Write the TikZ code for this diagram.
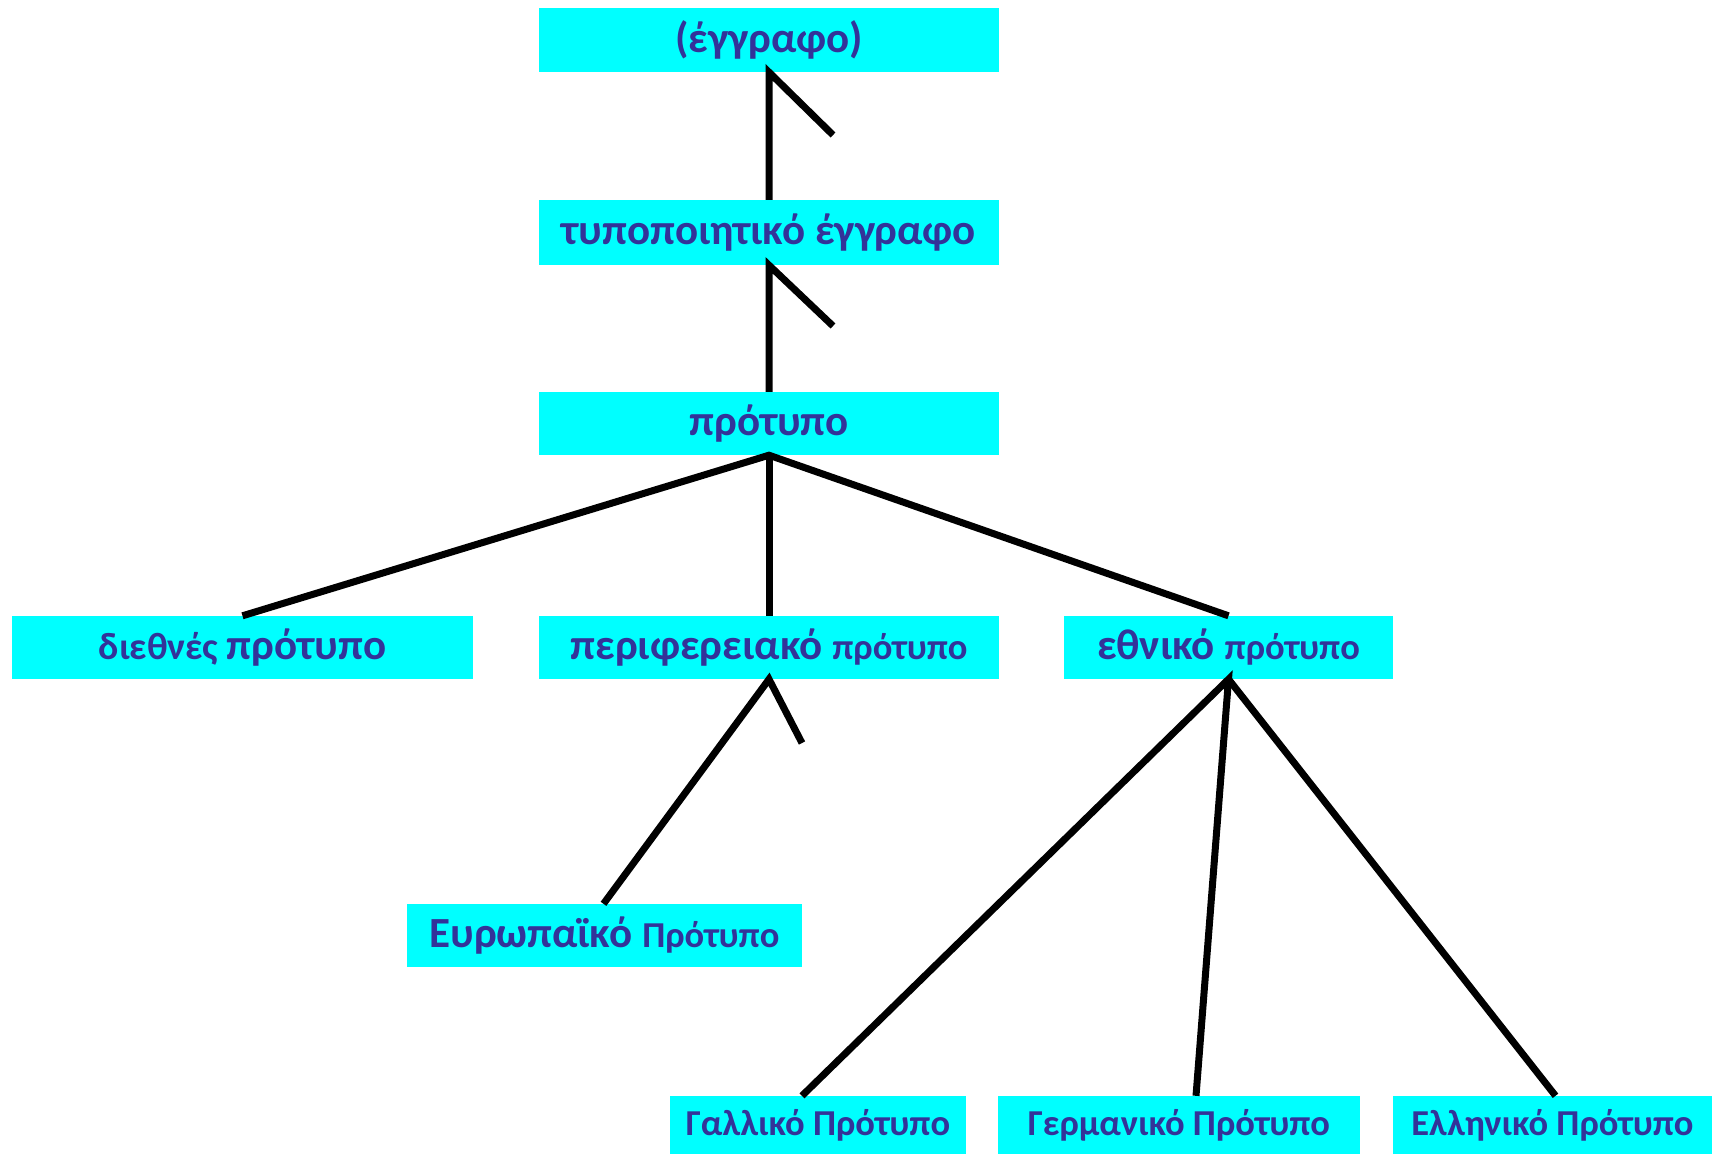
\documentclass[tikz,border=0pt]{standalone}
\usepackage{fontspec}
\setmainfont{Carlito}
\definecolor{boxcyan}{HTML}{00FFFF}
\definecolor{txtblue}{HTML}{333399}
\newcommand\fsL{\fontsize{43}{47}\selectfont}
\newcommand\fsM{\fontsize{38}{42}\selectfont}
\newcommand\fsS{\fontsize{36.5}{40}\selectfont}
\begin{document}
\begin{tikzpicture}[x=1pt,y=-1pt,
  box/.style={fill=boxcyan,draw=none,inner sep=0pt,text=txtblue,font=\bfseries,anchor=center},
  link/.style={line width=7pt,black}]
\useasboundingbox (0,0) rectangle (1712,1154);
\node[box,minimum width=460,minimum height=64] (doc) at (769,40) {\fsL(έγγραφο)};
\node[box,minimum width=460,minimum height=65] (tdoc) at (769,232.5) {\fsL τυποποιητικό έγγραφο};
\node[box,minimum width=460,minimum height=63] (std) at (769,423.5) {\fsL πρότυπο};
\node[box,minimum width=461,minimum height=63] (intl) at (242.5,647.5) {\fsM διεθνές \fsL πρότυπο};
\node[box,minimum width=460,minimum height=63] (reg) at (769,647.5) {\fsL περιφερειακό \fsS πρότυπο};
\node[box,minimum width=329,minimum height=63] (nat) at (1228.5,647.5) {\fsL εθνικό \fsS πρότυπο};
\node[box,minimum width=395,minimum height=63] (eu) at (604.5,935.5) {\fsL Ευρωπαϊκό \fsS Πρότυπο};
\node[box,minimum width=296,minimum height=58] (fr) at (818,1125) {\fsS Γαλλικό Πρότυπο};
\node[box,minimum width=362,minimum height=58] (de) at (1179,1125) {\fsS Γερμανικό Πρότυπο};
\node[box,minimum width=319,minimum height=58] (gr) at (1552.5,1125) {\fsS Ελληνικό Πρότυπο};
\coordinate (t1) at (833,135);
\coordinate (t2) at (833,326);
\coordinate (t3) at (802,743);
\draw[link] (tdoc.north) -- (doc.south) -- (t1);
\draw[link] (std.north) -- (tdoc.south) -- (t2);
\draw[link] (intl.north) -- (std.south) -- (nat.north);
\draw[link] (std.south) -- (reg.north);
\draw[link] ([xshift=-1pt]eu.north) -- (reg.south) -- (t3);
\draw[link] ([xshift=-16pt]fr.north) -- (nat.south) -- ([xshift=17pt]de.north);
\draw[link] (nat.south) -- ([xshift=3pt]gr.north);
\end{tikzpicture}
\end{document}
